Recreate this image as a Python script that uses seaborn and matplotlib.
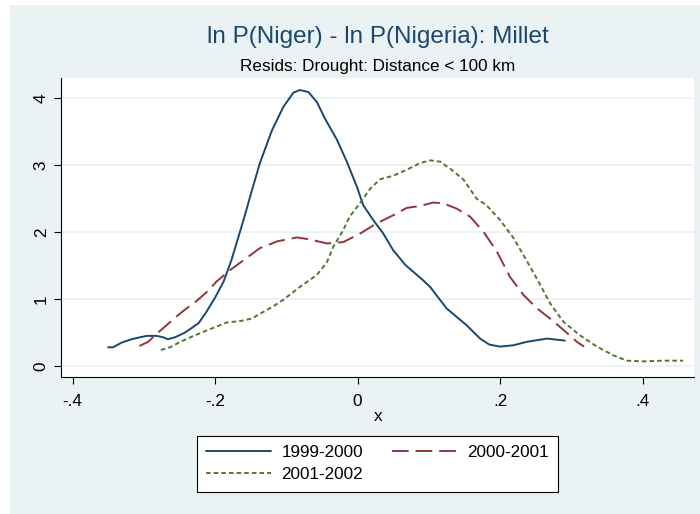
import numpy as np
import pandas as pd
import seaborn as sns
import matplotlib.pyplot as plt
from matplotlib.patches import Rectangle

# kernel density curves
x_9900 = [-0.350, -0.343, -0.331, -0.317, -0.305, -0.296, -0.282, -0.273, -0.266, -0.256,
          -0.242, -0.223, -0.212, -0.200, -0.188, -0.177, -0.160, -0.148, -0.137, -0.120,
          -0.104, -0.090, -0.081, -0.069, -0.057, -0.046, -0.029, -0.015, -0.001, 0.008,
          0.022, 0.036, 0.050, 0.067, 0.092, 0.102, 0.125, 0.153, 0.172, 0.185,
          0.200, 0.219, 0.237, 0.266, 0.291]
y_9900 = [0.28, 0.28, 0.35, 0.40, 0.43, 0.45, 0.45, 0.43, 0.40, 0.43,
          0.50, 0.64, 0.81, 1.02, 1.26, 1.58, 2.18, 2.63, 3.03, 3.52,
          3.87, 4.08, 4.12, 4.09, 3.94, 3.70, 3.38, 3.05, 2.68, 2.40,
          2.18, 1.98, 1.73, 1.51, 1.28, 1.18, 0.86, 0.61, 0.41, 0.32,
          0.29, 0.31, 0.36, 0.41, 0.38]

x_0001 = [-0.306, -0.294, -0.282, -0.268, -0.254, -0.240, -0.226, -0.212, -0.198, -0.179,
          -0.160, -0.137, -0.113, -0.085, -0.067, -0.043, -0.020, 0.004, 0.027, 0.050,
          0.069, 0.088, 0.106, 0.120, 0.139, 0.158, 0.177, 0.195, 0.214, 0.233,
          0.252, 0.270, 0.289, 0.308, 0.318]
y_0001 = [0.30, 0.36, 0.48, 0.61, 0.74, 0.86, 0.97, 1.10, 1.26, 1.43,
          1.58, 1.76, 1.86, 1.92, 1.89, 1.83, 1.85, 1.98, 2.13, 2.25,
          2.36, 2.39, 2.44, 2.43, 2.35, 2.23, 2.00, 1.72, 1.33, 1.06,
          0.86, 0.71, 0.54, 0.36, 0.29]

x_0102 = [-0.276, -0.263, -0.249, -0.230, -0.212, -0.195, -0.184, -0.165, -0.148, -0.137,
          -0.120, -0.104, -0.081, -0.057, -0.043, -0.034, -0.020, -0.011, 0.004, 0.018,
          0.032, 0.050, 0.069, 0.088, 0.102, 0.116, 0.132, 0.149, 0.167, 0.181,
          0.200, 0.219, 0.237, 0.254, 0.270, 0.289, 0.312, 0.336, 0.359, 0.378,
          0.401, 0.429, 0.457]
y_0102 = [0.24, 0.28, 0.36, 0.45, 0.53, 0.60, 0.65, 0.67, 0.71, 0.78,
          0.88, 0.99, 1.18, 1.36, 1.55, 1.78, 2.03, 2.23, 2.44, 2.65,
          2.79, 2.84, 2.93, 3.03, 3.07, 3.05, 2.93, 2.78, 2.50, 2.40,
          2.18, 1.91, 1.58, 1.26, 0.94, 0.66, 0.46, 0.29, 0.16, 0.08,
          0.07, 0.08, 0.08]

periods = ["1999-2000", "2000-2001", "2001-2002"]
xticks = [-0.4, -0.2, 0, 0.2, 0.4]
xtick_labels = ["-.4", "-.2", "0", ".2", ".4"]
yticks = [0, 1, 2, 3, 4]

df = pd.concat([
    pd.DataFrame({"x": x_9900, "y": y_9900, "period": periods[0]}),
    pd.DataFrame({"x": x_0001, "y": y_0001, "period": periods[1]}),
    pd.DataFrame({"x": x_0102, "y": y_0102, "period": periods[2]}),
], ignore_index=True)

sns.set_style("white")
plt.rcParams["font.family"] = ["Liberation Sans", "DejaVu Sans"]
plt.rcParams["lines.scale_dashes"] = False

bg = "#EAF2F3"
palette = {periods[0]: "#1A476F", periods[1]: "#90353B", periods[2]: "#55752F"}
dashes = {periods[0]: "", periods[1]: (12, 5), periods[2]: (3.3, 2.2)}

fig = plt.figure(figsize=(7, 5.14), dpi=100, facecolor="white")
fig.patches.append(Rectangle((10 / 700, 0), 690 / 700, 509 / 514,
                             transform=fig.transFigure, facecolor=bg,
                             edgecolor="none", zorder=-10))
ax = fig.add_axes([0.0876, 0.2665, 0.9039, 0.5817])
ax.set_zorder(1)
ax.set_facecolor("white")

sns.lineplot(data=df, x="x", y="y", hue="period", style="period",
             palette=palette, dashes=dashes, sort=False, estimator=None,
             linewidth=1.4, legend=False, ax=ax)

ax.set_xlim(-0.4157, 0.4723)
ax.set_ylim(-0.164, 4.299)
ax.set_xticks(xticks)
ax.set_xticklabels(xtick_labels)
ax.set_yticks(yticks)
ax.set_yticklabels([str(v) for v in yticks])
for lab in ax.get_yticklabels():
    lab.set_rotation(90)
    lab.set_va("center")
ax.tick_params(axis="both", length=5, width=0.8, color="black",
               labelsize=12.3, labelcolor="black", left=True, bottom=True)
ax.tick_params(axis="x", pad=7)
ax.tick_params(axis="y", pad=4)
ax.grid(axis="y", color=bg, linewidth=1.4)
ax.set_axisbelow(True)
for side in ["top", "right"]:
    ax.spines[side].set_visible(False)
for side in ["left", "bottom"]:
    ax.spines[side].set_color("black")
    ax.spines[side].set_linewidth(0.8)
ax.set_xlabel("x", fontsize=12.3, labelpad=0, color="black")
ax.set_ylabel("")

fig.text(377.5 / 700, 1 - 37 / 514, "ln P(Niger) - ln P(Nigeria): Millet",
         ha="center", va="center", fontsize=17.5, color="#1A476F")
fig.text(377.5 / 700, 1 - 66 / 514, "Resids: Drought: Distance < 100 km",
         ha="center", va="center", fontsize=12.3, color="black")

lines = ax.get_lines()
handles = {p: l for p, l in zip(periods, lines)}
order = [periods[0], periods[2], periods[1]]
leg = fig.legend([handles[p] for p in order], order, ncol=2,
                 loc="upper center", bbox_to_anchor=(377.5 / 700, 1 - 436 / 514),
                 bbox_transform=fig.transFigure, borderaxespad=0,
                 fontsize=12.3, handlelength=3.8, handletextpad=0.6,
                 columnspacing=1.7, borderpad=0.55, labelspacing=0.4,
                 fancybox=False, frameon=True, framealpha=1)
leg.get_frame().set_edgecolor("black")
leg.get_frame().set_linewidth(0.8)
leg.get_frame().set_facecolor("white")
for t in leg.get_texts():
    t.set_color("black")

fig.savefig("out.png", dpi=100, facecolor=fig.get_facecolor())
